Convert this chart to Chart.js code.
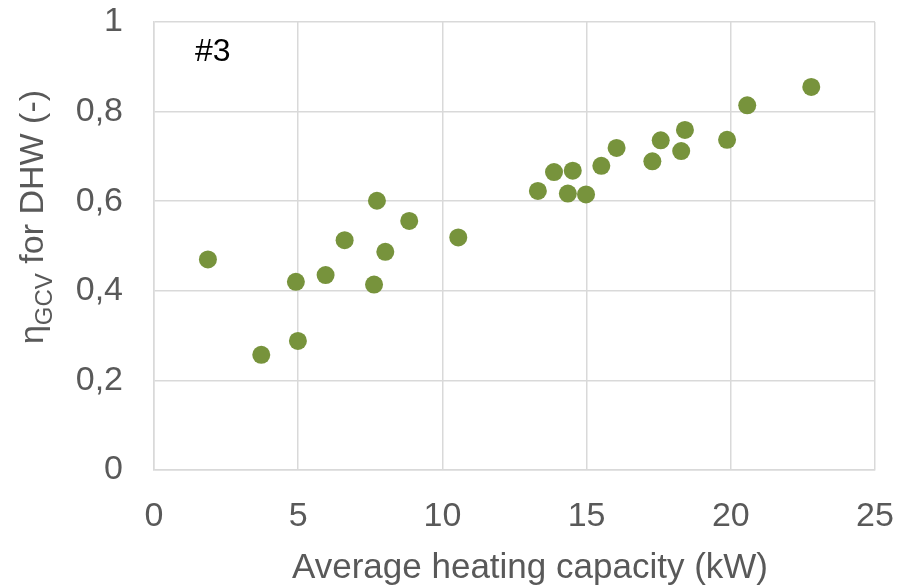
<!DOCTYPE html>
<html>
<head>
<meta charset="utf-8">
<script src="https://cdn.jsdelivr.net/npm/chart.js@4.4.1/dist/chart.umd.min.js"></script>
<style>
  html, body { margin: 0; padding: 0; background: #fff; }
  #wrap { width: 904px; height: 587px; }
</style>
</head>
<body>
<div id="wrap"><canvas id="scatter"></canvas></div>
<script>
// heating capacity (kW) and efficiency for DHW
const capacity = [1.87, 3.72, 4.92, 4.99, 5.95, 6.61, 7.63, 7.73, 8.02, 8.85, 10.55,
    13.31, 13.87, 14.35, 14.52, 14.98, 15.51, 16.04, 17.28, 17.57, 18.28, 18.41, 19.87, 20.57, 22.79];
const efficiency = [0.470, 0.257, 0.420, 0.288, 0.435, 0.513, 0.414, 0.601, 0.487, 0.556, 0.519,
    0.623, 0.665, 0.617, 0.668, 0.615, 0.679, 0.719, 0.689, 0.736, 0.712, 0.759, 0.737, 0.814, 0.855];
const xTicks = [0, 5, 10, 15, 20, 25];
const yTicks = [0, 0.2, 0.4, 0.6, 0.8, 1];

const FONT = '"Liberation Sans", Arial, sans-serif';
const TEXT = '#595959';
const GRID = '#d9d9d9';

// titles and the "#3" tag are drawn by hand (subscript in the y title)
const labelsPlugin = {
    id: 'labels',
    afterDraw(chart) {
        const ctx = chart.ctx;
        ctx.save();
        ctx.textBaseline = 'alphabetic';
        ctx.fillStyle = '#000';
        ctx.font = '32px ' + FONT;
        ctx.textAlign = 'left';
        ctx.fillText('#3', 195, 61);

        ctx.fillStyle = TEXT;
        ctx.font = '35px ' + FONT;
        ctx.textAlign = 'center';
        ctx.fillText('Average heating capacity (kW)', 530, 578);

        // y title, rotated, with subscript GCV
        ctx.translate(43, 217);
        ctx.rotate(-Math.PI / 2);
        ctx.textAlign = 'left';
        const big = '34px ' + FONT, small = '24px ' + FONT;
        ctx.font = big;
        const w1 = ctx.measureText('η').width;
        const w3 = ctx.measureText(' for DHW (-)').width;
        ctx.font = small;
        const w2 = ctx.measureText('GCV').width;
        let x = -(w1 + w2 + w3) / 2;
        ctx.font = big;
        ctx.fillText('η', x, 0);
        x += w1;
        ctx.font = small;
        ctx.fillText('GCV', x, 9);
        x += w2;
        ctx.font = big;
        ctx.fillText(' for DHW (-)', x, 0);
        ctx.restore();
    }
};

const noPad = s => {
    s.paddingTop = 0; s.paddingBottom = 0; s.paddingLeft = 0; s.paddingRight = 0;
};

new Chart(document.getElementById('scatter'), {
    type: 'scatter',
    data: {
        datasets: [{
            data: capacity.map((c, i) => ({ x: c, y: efficiency[i] })),
            backgroundColor: '#77933C',
            borderColor: '#77933C',
            borderWidth: 0,
            pointRadius: 9,
            pointHoverRadius: 9
        }]
    },
    options: {
        responsive: true,
        maintainAspectRatio: false,
        animation: false,
        layout: { padding: { top: 22, right: 29, left: 0, bottom: 0 } },
        plugins: { legend: { display: false }, tooltip: { enabled: false } },
        scales: {
            x: {
                type: 'linear',
                min: xTicks[0],
                max: xTicks[xTicks.length - 1],
                afterBuildTicks: s => { s.ticks = xTicks.map(v => ({ value: v })); },
                afterFit: s => { s.height = 117; noPad(s); },
                grid: { color: GRID, lineWidth: 1.5, drawTicks: false },
                border: { color: GRID, width: 1.5 },
                ticks: { color: TEXT, font: { family: FONT, size: 34 }, padding: 26, maxRotation: 0 }
            },
            y: {
                type: 'linear',
                min: yTicks[0],
                max: yTicks[yTicks.length - 1],
                afterBuildTicks: s => { s.ticks = yTicks.map(v => ({ value: v })); },
                afterFit: s => { s.width = 154; noPad(s); },
                grid: { color: GRID, lineWidth: 1.5, drawTicks: false },
                border: { color: GRID, width: 1.5 },
                ticks: {
                    color: TEXT,
                    font: { family: FONT, size: 34 },
                    padding: 31,
                    callback: v => String(Math.round(v * 10) / 10).replace('.', ',')
                }
            }
        }
    },
    plugins: [labelsPlugin]
});
</script>
</body>
</html>
